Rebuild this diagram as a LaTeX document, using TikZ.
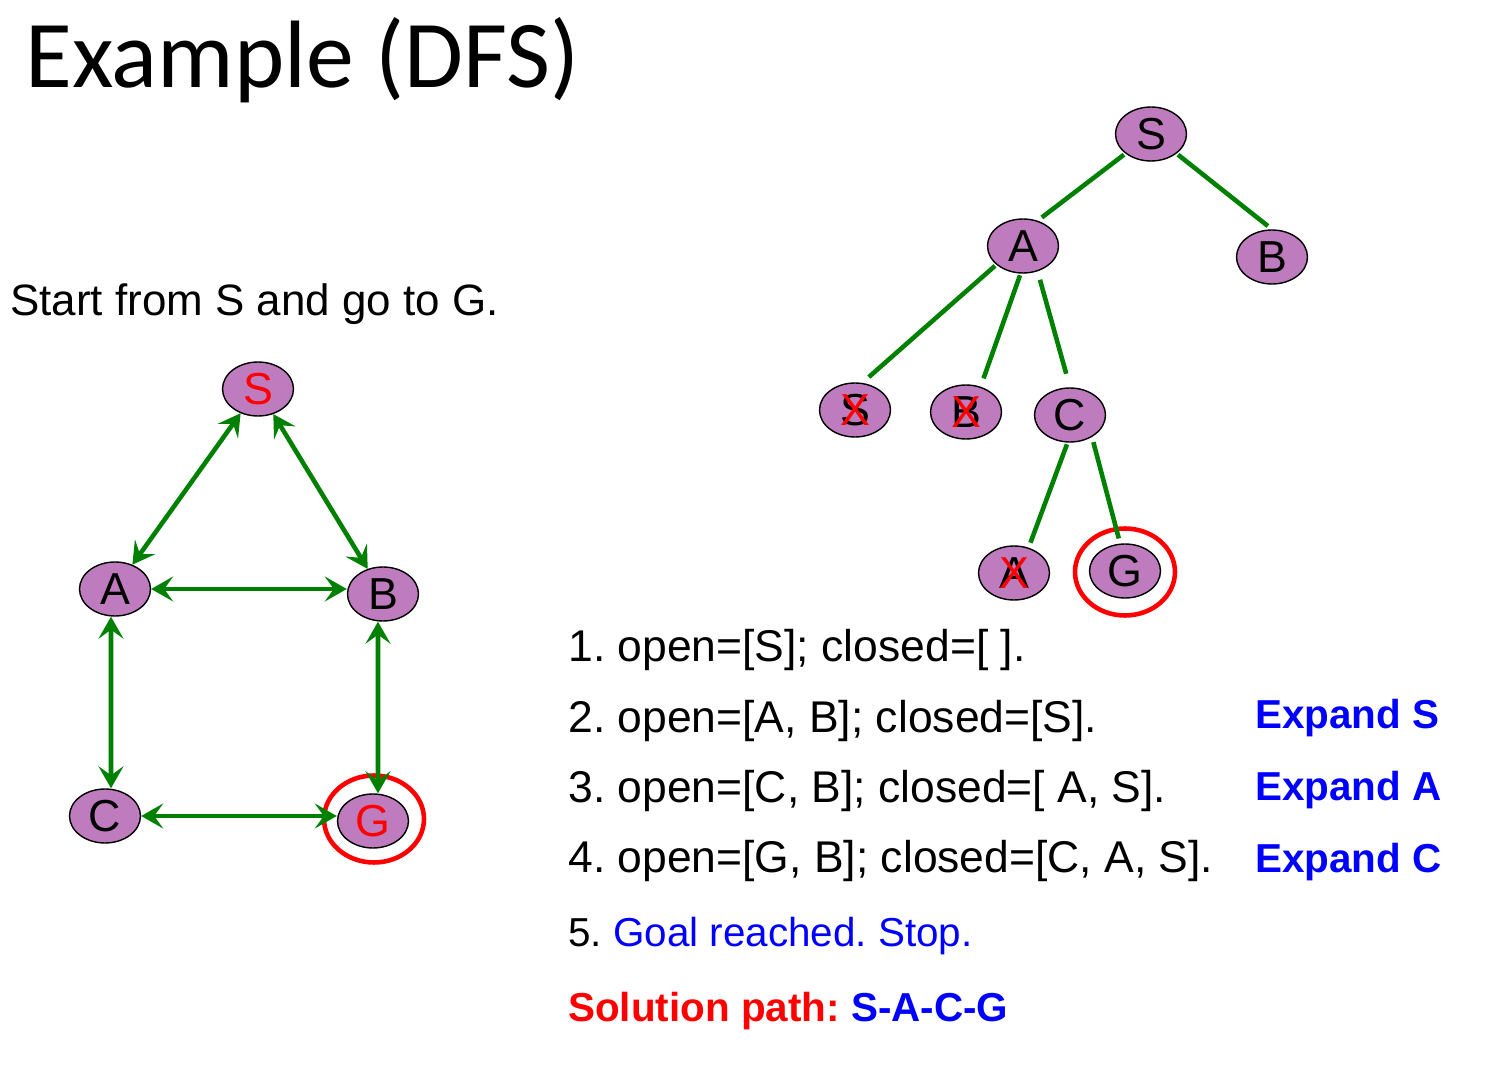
\documentclass[tikz,border=0pt]{standalone}
\usepackage{fontspec}
\setmainfont{Liberation Sans}
\newfontfamily\titlefont{Carlito}
\usetikzlibrary{arrows.meta,positioning,shapes.geometric}
\definecolor{nodeP}{RGB}{190,124,190}
\definecolor{edgeG}{RGB}{0,128,0}
\definecolor{goalR}{RGB}{255,0,0}
\definecolor{noteB}{RGB}{0,0,255}
\newcommand{\crossed}[1]{\ooalign{#1\cr\hidewidth\textcolor{goalR}{X}\hidewidth\cr}}
\frenchspacing

\begin{document}
\begin{tikzpicture}[
  x=0.02cm, y=-0.02cm,
  vtx/.style={ellipse, draw=black, line width=0.8pt, fill=nodeP, inner sep=0pt,
    minimum width=1.42cm, minimum height=1.08cm, font=\fontsize{25.5}{25}\selectfont},
  arr/.style={{Stealth[length=4.4mm,width=5mm,inset=1.8mm]}-{Stealth[length=4.4mm,width=5mm,inset=1.8mm]},
    line width=2.6pt, edgeG},
  tedge/.style={line width=2.6pt, edgeG, shorten <=1pt, shorten >=3pt},
  ring/.style={ellipse, draw=goalR, line width=2.6pt, minimum width=2.0cm, minimum height=1.74cm},
  txt/.style={anchor=base west, inner sep=0pt, font=\fontsize{25.3}{30}\selectfont},
  note/.style={anchor=base west, inner sep=0pt, font=\fontsize{23}{28}\selectfont\bfseries, text=#1},
]
\useasboundingbox (0,0) rectangle (1499,1067);

% title and task
\node[anchor=base west, inner sep=0pt, font=\titlefont\fontsize{54.5}{60}\selectfont] (title) at (25,88) {Example (DFS)};
\node[txt, font=\fontsize{25}{30}\selectfont] (task) at (10,316) {Start from S and go to G.};

% state graph
\node[vtx, text=goalR] (S) at (258,389) {S};
\node[vtx] (A) at (115,589) {A};
\node[vtx] (B) at (383,594) {B};
\node[vtx] (C) at (105,816) {C};
\node[vtx, text=goalR] (G) at (373,821) {G};
\node[ring] (Gring) at (374,819) {};

\draw[arr] (S) -- (A);
\draw[arr] (S) -- (B);
\draw[arr] (A.east) -- (A.east -| B.west);
\draw[arr] ([xshift=-0.08cm]A.south) -- ([xshift=0.12cm]C.north);
\draw[arr] ([xshift=-0.1cm]B.south) -- ([xshift=0.1cm]G.north);
\draw[arr] (C.east) -- (C.east -| G.west);

% search tree
\node[vtx] (tS) at (1151,134) {S};
\node[vtx] (tA) at (1023,246) {A};
\node[vtx] (tB) at (1272,257) {B};
\node[vtx] (tAS) at (855,410) {\crossed{S}};
\node[vtx] (tAB) at (966,412) {\crossed{B}};
\node[vtx] (tC) at (1070,415) {C};
\node[vtx] (tCA) at (1014,573) {\crossed{A}};
\node[vtx] (tG) at (1125,571) {G};
\node[ring] (tGring) at (1125,572) {};

\draw[tedge] (tS.south west) -- (tA.60);
\draw[tedge] (tS.south east) -- (tB.north);
\draw[tedge, shorten >=5pt] (tA.215) -- (tAS.75);
\draw[tedge, shorten >=5pt] (tA.265) -- (tAB.60);
\draw[tedge, shorten <=5pt, shorten >=8pt] (tA.-60) -- (tC.north);
\draw[tedge] (tC.265) -- (tCA.60);
\draw[tedge, shorten <=3pt] (tC.-45) -- (tG.100);

% open / closed lists
\node[txt] (l1) at (568,662) {1. open=[S]; closed=[ ].};
\node[txt] (l2) at (568,732) {2. open=[A, B]; closed=[S].};
\node[txt] (l3) at (568,802) {3. open=[C, B]; closed=[ A, S].};
\node[txt] (l4) at (568,872) {4. open=[G, B]; closed=[C, A, S].};
\node[note=noteB] (e2) at (1255,728) {Expand S};
\node[note=noteB] (e3) at (1255,800) {Expand A};
\node[note=noteB] (e4) at (1255,872) {Expand C};
\node[txt, font=\fontsize{23}{28}\selectfont] (l5) at (568,946) {5. \textcolor{noteB}{Goal reached. Stop.}};
\node[note=goalR] (sol) at (568,1021) {Solution path: \textcolor{noteB}{S-A-C-G}};

\end{tikzpicture}
\end{document}
